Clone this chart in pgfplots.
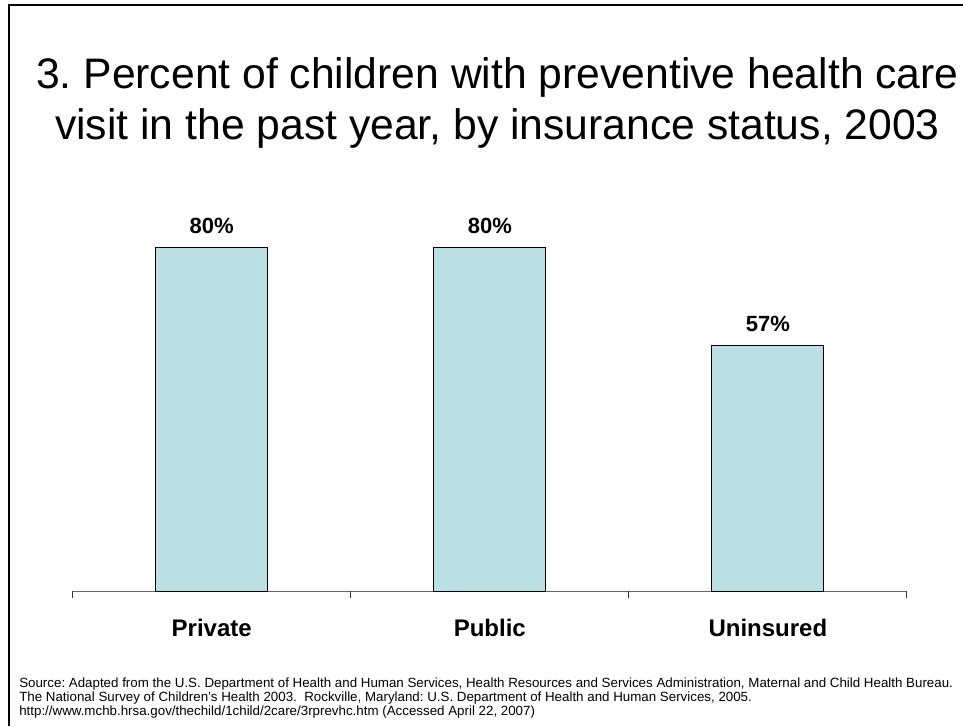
\documentclass[border=0pt]{standalone}
\usepackage{pgfplots}
\pgfplotsset{compat=1.18}
\usepackage{fontspec}
\setmainfont{Liberation Sans}
\definecolor{barblue}{RGB}{187,224,227}
\begin{document}
\frenchspacing
\begin{tikzpicture}
\path[use as bounding box] (0pt,0pt) rectangle (722.25pt,544.5pt);
\draw[line width=1.5pt] (6.375pt,0pt) -- (6.375pt,540.75pt) -- (722.25pt,540.75pt);
\node[font=\fontsize{32}{38}\selectfont, anchor=base, inner sep=0pt] at (373.1pt,477.75pt) {3. Percent of children with preventive health care};
\node[font=\fontsize{32}{38}\selectfont, anchor=base, inner sep=0pt] at (373.1pt,439.5pt) {visit in the past year, by insurance status, 2003};
\begin{axis}[
  at={(54.5pt,101.25pt)}, anchor=south west,
  scale only axis, width=625.7pt, height=322.5pt,
  xmin=-0.5, xmax=2.5, ymin=0, ymax=100,
  axis x line*=bottom, hide y axis,
  x axis line style={black!60, line width=0.75pt},
  xtick={0,1,2}, xticklabels={Private,Public,Uninsured},
  major tick length=0pt,
  xticklabel style={anchor=base, yshift=-33.75pt, font=\bfseries\fontsize{18}{18}\selectfont},
  extra x ticks={-0.5,0.5,1.5,2.5}, extra x tick labels={},
  extra x tick style={major tick length=5.25pt, tick align=outside, tick style={black!80, line width=0.75pt}},
  ybar, bar width=84pt,
  /pgf/number format/assume math mode=true,
  nodes near coords={\pgfmathprintnumber{\pgfplotspointmeta}\%},
  every node near coord/.append style={anchor=base, yshift=10.5pt, font=\bfseries\fontsize{16.5}{16.5}\selectfont, black},
  clip=false,
]
\addplot[fill=barblue, draw=black, line width=0.75pt] coordinates {(0,80) (1,80) (2,57)};
\end{axis}
\node[font=\fontsize{10}{12}\selectfont, anchor=base west, inner sep=0pt] at (14.25pt,29.25pt) {Source: Adapted from the U.S. Department of Health and Human Services, Health Resources and Services Administration, Maternal and Child Health Bureau.};
\node[font=\fontsize{10}{12}\selectfont, anchor=base west, inner sep=0pt] at (14.25pt,18.75pt) {The National Survey of Children's Health 2003.\ \ Rockville, Maryland: U.S. Department of Health and Human Services, 2005.};
\node[font=\fontsize{10}{12}\selectfont, anchor=base west, inner sep=0pt] at (14.25pt,7.9pt) {http://www.mchb.hrsa.gov/thechild/1child/2care/3rprevhc.htm (Accessed April 22, 2007)};
\end{tikzpicture}
\end{document}
